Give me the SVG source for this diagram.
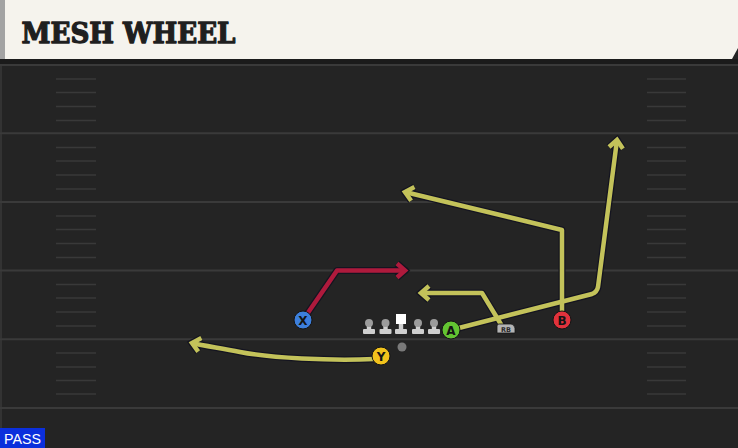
<svg xmlns="http://www.w3.org/2000/svg" width="738" height="448" viewBox="0 0 738 448">
<defs>
<style>
.yard{stroke:#3a3a3a;stroke-width:2}
.hash{stroke:#393939;stroke-width:1.5}
.out{fill:none;stroke:#141420;stroke-width:7;stroke-linejoin:round;stroke-linecap:round}
.ry{fill:none;stroke:#c3c25a;stroke-width:4.5;stroke-linejoin:round}
.rr{fill:none;stroke:#ae1a3c;stroke-width:4.5;stroke-linejoin:round}
.pl{stroke:#151515;stroke-width:1}
.lt{font-family:"DejaVu Sans","Liberation Sans",sans-serif;font-weight:bold;font-size:12px;fill:#141414;text-anchor:middle}
.ln{fill:#cfcfcf}
.lh{fill:#9c9c9c}
</style>
<marker id="ay" markerUnits="userSpaceOnUse" markerWidth="30" markerHeight="30" refX="0" refY="0" viewBox="-15 -15 30 30" orient="auto" overflow="visible">
<path d="M-8,-7 L0,0 L-8,7" fill="none" stroke="#c3c25a" stroke-width="4.5" stroke-linejoin="miter"/>
</marker>
<marker id="ar" markerUnits="userSpaceOnUse" markerWidth="30" markerHeight="30" refX="0" refY="0" viewBox="-15 -15 30 30" orient="auto" overflow="visible">
<path d="M-8,-7 L0,0 L-8,7" fill="none" stroke="#ae1a3c" stroke-width="4.5" stroke-linejoin="miter"/>
</marker>
<marker id="ao" markerUnits="userSpaceOnUse" markerWidth="30" markerHeight="30" refX="0" refY="0" viewBox="-15 -15 30 30" orient="auto" overflow="visible">
<path d="M-8,-7 L0,0 L-8,7" fill="none" stroke="#141420" stroke-width="7" stroke-linejoin="miter"/>
</marker>
<g id="lineman">
<rect class="ln" x="-6" y="-5" width="12" height="5" rx="1"/>
<rect class="ln" x="-2.2" y="-11" width="4.4" height="7"/>
<circle class="lh" cx="0" cy="-11" r="4"/>
</g>
</defs>

<!-- field -->
<rect x="0" y="0" width="738" height="448" fill="#242424"/>
<rect x="0" y="59" width="738" height="6" fill="#1b1b1b"/>
<rect x="0" y="65" width="2" height="383" fill="#333"/>
<g id="field-lines">
<line class="yard" x1="0" y1="65" x2="738" y2="65"/>
<line class="yard" x1="0" y1="133.2" x2="738" y2="133.2"/>
<line class="yard" x1="0" y1="201.9" x2="738" y2="201.9"/>
<line class="yard" x1="0" y1="270.6" x2="738" y2="270.6"/>
<line class="yard" x1="0" y1="339.3" x2="738" y2="339.3"/>
<line class="yard" x1="0" y1="408" x2="738" y2="408"/>
</g>
<g id="hash-marks">
<path class="hash" d="M56,79H96M56,92.5H96M56,106.5H96M56,120.5H96
M56,147.5H96M56,161H96M56,175H96M56,189H96
M56,216H96M56,229.5H96M56,243.5H96M56,257.5H96
M56,284.5H96M56,298H96M56,312H96M56,326H96
M56,353H96M56,367H96M56,380.5H96M56,394H96
M647,79H686M647,92.5H686M647,106.5H686M647,120.5H686
M647,147.5H686M647,161H686M647,175H686M647,189H686
M647,216H686M647,229.5H686M647,243.5H686M647,257.5H686
M647,284.5H686M647,298H686M647,312H686M647,326H686
M647,353H686M647,367H686M647,380.5H686M647,394H686"/>
</g>

<!-- header -->
<g id="header">
<path d="M0,0H738V48L732,59H0Z" fill="#f5f3ed"/>
<rect x="0" y="0" width="5" height="59" fill="#a3a3a3"/>
<text x="21.5" y="42.5" font-family="'DejaVu Serif','Liberation Serif',serif" font-weight="bold" font-size="28" fill="#1f1f1f" stroke="#1f1f1f" stroke-width="1.3" stroke-linejoin="round" textLength="214" lengthAdjust="spacingAndGlyphs">MESH WHEEL</text>
</g>

<!-- connectors -->
<g id="connectors">
<g id="route-outlines">
<path class="out" d="M303,320 L337,270.5 L405,270.5" marker-end="url(#ao)"/>
<path class="out" d="M374,359 C330,361 270,358 240,352 C220,348 205,346 192,343" marker-end="url(#ao)"/>
<path class="out" d="M451,330 L592,294 Q597,292 598,287 L617,140" marker-end="url(#ao)"/>
<path class="out" d="M562,318 V230 L405,192" marker-end="url(#ao)"/>
<path class="out" d="M502,326 L482,293 H421" marker-end="url(#ao)"/>
</g>
<path id="route-X" class="rr" d="M303,320 L337,270.5 L405,270.5" marker-end="url(#ar)"/>
<path id="route-Y" class="ry" d="M374,359 C330,361 270,358 240,352 C220,348 205,346 192,343" marker-end="url(#ay)"/>
<path id="route-A" class="ry" d="M451,330 L592,294 Q597,292 598,287 L617,140" marker-end="url(#ay)"/>
<path id="route-B" class="ry" d="M562,318 V230 L405,192" marker-end="url(#ay)"/>
<path id="route-RB" class="ry" d="M502,326 L482,293 H421" marker-end="url(#ay)"/>
</g>

<!-- offensive line -->
<g id="line-LT"><use href="#lineman" x="369" y="334"/></g>
<g id="line-LG"><use href="#lineman" x="385.5" y="334"/></g>
<g id="line-C">
<rect class="ln" x="395" y="329" width="12" height="5" rx="1"/>
<rect class="ln" x="398.8" y="323" width="4.4" height="7"/>
<rect x="396" y="314" width="10" height="10" fill="#ffffff"/>
</g>
<g id="line-RG"><use href="#lineman" x="418" y="334"/></g>
<g id="line-RT"><use href="#lineman" x="434" y="334"/></g>
<g id="ball"><circle cx="402" cy="347" r="4.5" fill="#7a7a7a"/></g>

<!-- players -->
<g id="player-X"><circle class="pl" cx="303" cy="320" r="9" fill="#3d7fdc"/><text class="lt" x="303" y="324.5">X</text></g>
<g id="player-Y"><circle class="pl" cx="381" cy="356" r="9" fill="#f1c21c"/><text class="lt" x="381" y="360.5">Y</text></g>
<g id="player-A"><circle class="pl" cx="451" cy="330" r="9" fill="#63c432"/><text class="lt" x="451" y="334.5">A</text></g>
<g id="player-B"><circle class="pl" cx="562" cy="320" r="9" fill="#e1323c"/><text class="lt" x="562" y="324.5">B</text></g>
<g id="player-RB"><path d="M497,326 Q497,324 499,324 H511 Q514,324 515,328 V333 H497Z" fill="#b4b4b4" stroke="#151515" stroke-width="0.8"/><text x="506" y="332" font-family="'DejaVu Sans','Liberation Sans',sans-serif" font-weight="bold" font-size="6.5" fill="#2a2a2a" text-anchor="middle">RB</text></g>

<!-- play type -->
<g id="pass-label">
<rect x="0" y="428" width="45" height="20" fill="#0b2fdc"/>
<text x="4" y="444" font-family="'Liberation Sans',Arial,sans-serif" font-size="14" fill="#ffffff" textLength="37" lengthAdjust="spacingAndGlyphs">PASS</text>
</g>
</svg>
